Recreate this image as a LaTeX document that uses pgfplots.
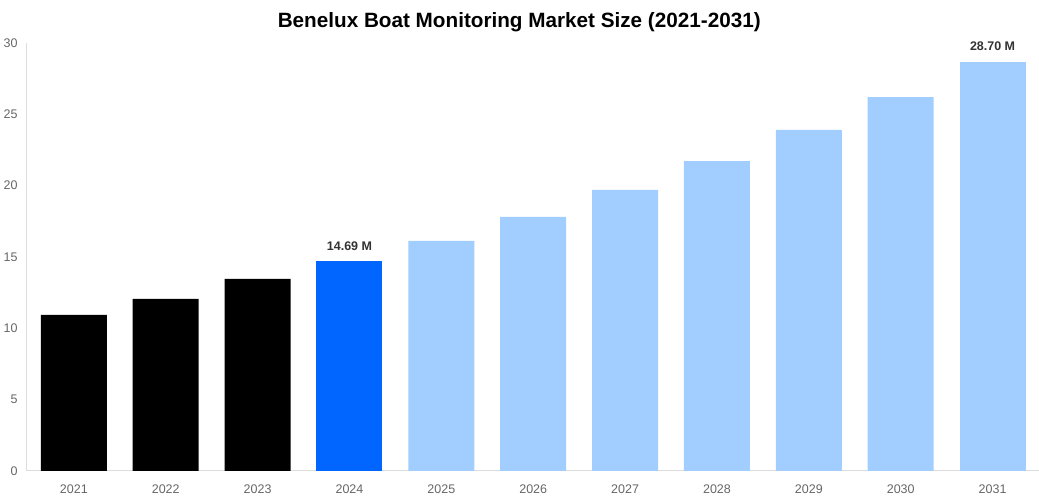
\documentclass[border=0pt]{standalone}
\usepackage{fontspec}
\setmainfont{Liberation Sans}
\usepackage{pgfplots}
\pgfplotsset{compat=1.18}

\definecolor{histbar}{HTML}{000000}
\definecolor{curbar}{HTML}{0066FF}
\definecolor{fcbar}{HTML}{A2CDFF}
\definecolor{axisgray}{HTML}{DDDDDD}
\definecolor{ticktext}{HTML}{666666}
\definecolor{labeltext}{HTML}{333333}

\begin{document}
\begin{tikzpicture}
\begin{axis}[
    at={(0pt,0pt)}, anchor=south west,
    scale only axis,
    width=1012pt, height=428pt,
    xmin=-0.51, xmax=10.5,
    ymin=0, ymax=30,
    ybar, bar width=66pt, bar shift=0pt,
    axis x line=bottom, axis y line=left,
    axis line style={draw=axisgray, line width=1pt, -},
    xtick={0,...,10},
    xticklabels={2021,2022,2023,2024,2025,2026,2027,2028,2029,2030,2031},
    ytick={0,5,...,30},
    major tick length=0pt,
    tick style={draw=none},
    /pgf/number format/assume math mode=true,
    ticklabel style={font=\fontsize{12.5}{14}\selectfont, text=ticktext},
    xticklabel style={yshift=-10pt},
    yticklabel style={xshift=-6pt},
    clip=false,
    title={\fontsize{20.7}{24}\selectfont\bfseries Benelux Boat Monitoring Market Size (2021-2031)},
    title style={yshift=2pt, xshift=-13.5pt},
    nodes near coords style={font=\fontsize{12.5}{14}\selectfont\bfseries, text=labeltext, yshift=7pt},
]
\addplot[fill=histbar, draw=none] coordinates {(0,10.93) (1,12.05) (2,13.45)};
\addplot[fill=curbar, draw=none, nodes near coords={\pgfmathprintnumber[fixed,precision=2,fixed zerofill]{\pgfplotspointmeta}~M}] coordinates {(3,14.69)};
\addplot[fill=fcbar, draw=none] coordinates {(4,16.12) (5,17.80) (6,19.69) (7,21.72) (8,23.90) (9,26.20)};
\addplot[fill=fcbar, draw=none, nodes near coords={\pgfmathprintnumber[fixed,precision=2,fixed zerofill]{\pgfplotspointmeta}~M}] coordinates {(10,28.70)};
\end{axis}
\useasboundingbox (-27pt,-29pt) rectangle (1012pt,471pt);
\end{tikzpicture}
\end{document}
